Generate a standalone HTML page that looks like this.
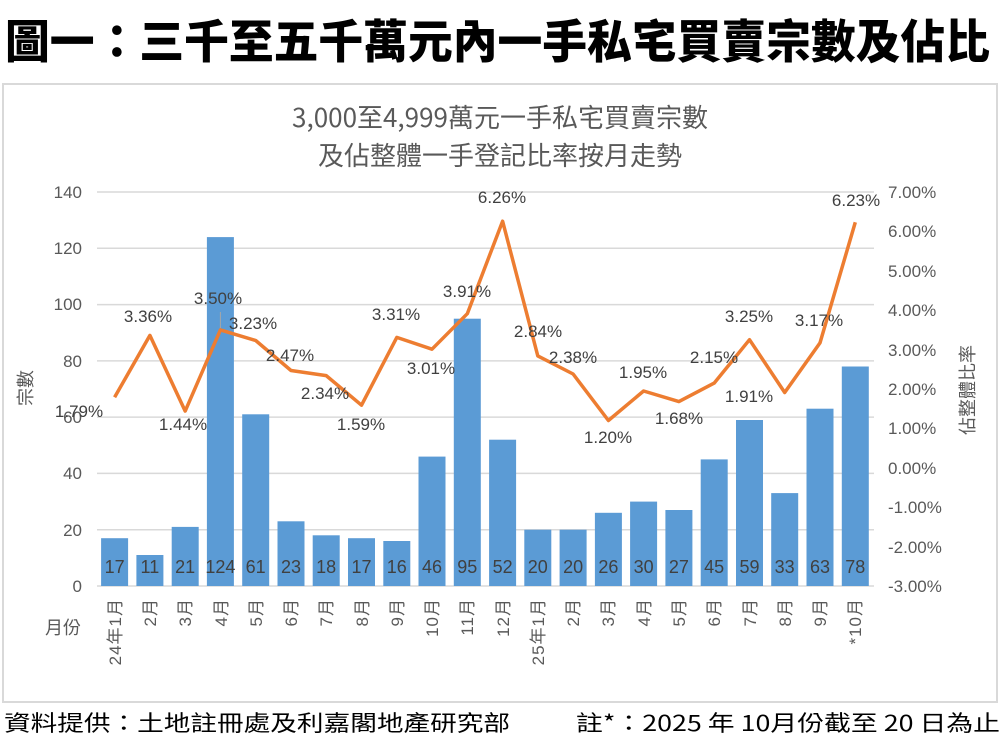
<!DOCTYPE html>
<html><head><meta charset="utf-8"><style>
html,body{margin:0;padding:0;background:#fff;}
svg{display:block;}
text{font-family:"Liberation Sans","Noto Sans CJK TC",sans-serif;}
.g{fill:#595959;font-size:17px;}
.b{fill:#404040;font-size:18px;text-anchor:middle;}
.l{fill:#404040;font-size:17px;text-anchor:middle;}
.x{fill:#595959;font-size:17px;text-anchor:end;letter-spacing:1px;}
</style></head><body>
<svg width="1007" height="744" viewBox="0 0 1007 744" xmlns="http://www.w3.org/2000/svg">
<text x="5" y="58" font-size="46" font-weight="900" fill="#000" textLength="985" lengthAdjust="spacingAndGlyphs" style="font-family:'Noto Sans CJK TC',sans-serif">圖一：三千至五千萬元內一手私宅買賣宗數及佔比</text>
<rect x="3" y="84" width="994" height="618" fill="#fff" stroke="#d9d9d9" stroke-width="2"/>
<text x="500" y="127" font-size="26" fill="#595959" text-anchor="middle" style="font-family:'Noto Sans CJK TC',sans-serif">3,000至4,999萬元一手私宅買賣宗數</text>
<text x="500" y="165" font-size="26" fill="#595959" text-anchor="middle" style="font-family:'Noto Sans CJK TC',sans-serif">及佔整體一手登記比率按月走勢</text>
<g stroke="#d9d9d9" stroke-width="1.5">
<line x1="97" x2="874" y1="192" y2="192"/><line x1="97" x2="874" y1="248.3" y2="248.3"/>
<line x1="97" x2="874" y1="304.6" y2="304.6"/><line x1="97" x2="874" y1="360.9" y2="360.9"/>
<line x1="97" x2="874" y1="417.1" y2="417.1"/><line x1="97" x2="874" y1="473.4" y2="473.4"/>
<line x1="97" x2="874" y1="529.7" y2="529.7"/><line x1="97" x2="874" y1="586" y2="586"/>
</g>
<g class="g" text-anchor="end">
<text x="82" y="198">140</text><text x="82" y="254">120</text><text x="82" y="310">100</text>
<text x="82" y="367">80</text><text x="82" y="423">60</text><text x="82" y="479">40</text>
<text x="82" y="536">20</text><text x="82" y="592">0</text>
</g>
<g class="g">
<text x="888" y="198">7.00%</text><text x="888" y="237">6.00%</text><text x="888" y="277">5.00%</text>
<text x="888" y="316">4.00%</text><text x="888" y="356">3.00%</text><text x="888" y="395">2.00%</text>
<text x="888" y="434">1.00%</text><text x="888" y="474">0.00%</text><text x="888" y="513">-1.00%</text>
<text x="888" y="553">-2.00%</text><text x="888" y="592">-3.00%</text>
</g>
<text class="g" transform="translate(32,388) rotate(-90)" text-anchor="middle" style="font-size:18px">宗數</text>
<text class="g" transform="translate(974,390) rotate(-90)" text-anchor="middle" style="font-size:18px">佔整體比率</text>
<text class="g" x="45" y="634" style="font-size:18px">月份</text>
<g fill="#5b9bd5">
<rect x="101.1" y="538.2" width="27" height="47.8"/><rect x="136.4" y="555" width="27" height="31"/>
<rect x="171.7" y="526.9" width="27" height="59.1"/><rect x="206.9" y="237.1" width="27" height="348.9"/>
<rect x="242.2" y="414.3" width="27" height="171.7"/><rect x="277.5" y="521.3" width="27" height="64.7"/>
<rect x="312.7" y="535.3" width="27" height="50.7"/><rect x="348" y="538.2" width="27" height="47.8"/>
<rect x="383.3" y="541" width="27" height="45"/><rect x="418.5" y="456.6" width="27" height="129.4"/>
<rect x="453.8" y="318.7" width="27" height="267.3"/><rect x="489.1" y="439.7" width="27" height="146.3"/>
<rect x="524.3" y="529.7" width="27" height="56.3"/><rect x="559.6" y="529.7" width="27" height="56.3"/>
<rect x="594.9" y="512.8" width="27" height="73.2"/><rect x="630.1" y="501.6" width="27" height="84.4"/>
<rect x="665.4" y="510" width="27" height="76"/><rect x="700.7" y="459.4" width="27" height="126.6"/>
<rect x="736" y="420" width="27" height="166"/><rect x="771.2" y="493.1" width="27" height="92.9"/>
<rect x="806.5" y="408.7" width="27" height="177.3"/><rect x="841.8" y="366.5" width="27" height="219.5"/>
</g>
<g class="b">
<text x="114.6" y="573">17</text><text x="149.9" y="573">11</text><text x="185.2" y="573">21</text><text x="220.4" y="573">124</text>
<text x="255.7" y="573">61</text><text x="291" y="573">23</text><text x="326.2" y="573">18</text><text x="361.5" y="573">17</text>
<text x="396.8" y="573">16</text><text x="432" y="573">46</text><text x="467.3" y="573">95</text><text x="502.6" y="573">52</text>
<text x="537.8" y="573">20</text><text x="573.1" y="573">20</text><text x="608.4" y="573">26</text><text x="643.6" y="573">30</text>
<text x="678.9" y="573">27</text><text x="714.2" y="573">45</text><text x="749.5" y="573">59</text><text x="784.7" y="573">33</text>
<text x="820" y="573">63</text><text x="855.3" y="573">78</text>
</g>
<line x1="220.4" y1="312" x2="220.4" y2="328" stroke="#a6a6a6" stroke-width="1"/>
<polyline fill="none" stroke="#ed7d31" stroke-width="3.5" stroke-linejoin="round" points="114.6,397.3 149.9,335.4 185.2,411.1 220.4,329.9 255.7,340.5 291,370.5 326.2,375.6 361.5,405.2 396.8,337.4 432,349.2 467.3,313.7 502.6,221.2 537.8,355.9 573.1,374 608.4,420.5 643.6,391 678.9,401.6 714.2,383.1 749.5,339.7 784.7,392.5 820,342.9 855.3,222.3"/>
<g class="l">
<text x="79" y="417">1.79%</text><text x="148" y="322">3.36%</text><text x="183" y="430">1.44%</text>
<text x="218" y="304">3.50%</text><text x="253" y="329">3.23%</text><text x="290" y="361">2.47%</text>
<text x="325" y="399">2.34%</text><text x="361" y="430">1.59%</text><text x="396" y="320">3.31%</text>
<text x="431" y="374">3.01%</text><text x="467" y="297">3.91%</text><text x="502" y="203">6.26%</text>
<text x="538" y="337">2.84%</text><text x="573" y="363">2.38%</text><text x="608" y="443">1.20%</text>
<text x="643" y="378">1.95%</text><text x="679" y="424">1.68%</text><text x="714" y="363">2.15%</text>
<text x="749" y="322">3.25%</text><text x="749" y="402">1.91%</text><text x="819" y="326">3.17%</text>
<text x="856" y="206">6.23%</text>
</g>
<g class="x">
<text transform="translate(121,598) rotate(-90)">24年1月</text><text transform="translate(156,598) rotate(-90)">2月</text>
<text transform="translate(191,598) rotate(-90)">3月</text><text transform="translate(227,598) rotate(-90)">4月</text>
<text transform="translate(262,598) rotate(-90)">5月</text><text transform="translate(297,598) rotate(-90)">6月</text>
<text transform="translate(332,598) rotate(-90)">7月</text><text transform="translate(368,598) rotate(-90)">8月</text>
<text transform="translate(403,598) rotate(-90)">9月</text><text transform="translate(438,598) rotate(-90)">10月</text>
<text transform="translate(473,598) rotate(-90)">11月</text><text transform="translate(509,598) rotate(-90)">12月</text>
<text transform="translate(544,598) rotate(-90)">25年1月</text><text transform="translate(579,598) rotate(-90)">2月</text>
<text transform="translate(614,598) rotate(-90)">3月</text><text transform="translate(650,598) rotate(-90)">4月</text>
<text transform="translate(685,598) rotate(-90)">5月</text><text transform="translate(720,598) rotate(-90)">6月</text>
<text transform="translate(756,598) rotate(-90)">7月</text><text transform="translate(791,598) rotate(-90)">8月</text>
<text transform="translate(826,598) rotate(-90)">9月</text><text transform="translate(861,598) rotate(-90)">*10月</text>
</g>
<text x="4" y="731" font-size="22" fill="#000" textLength="506" lengthAdjust="spacingAndGlyphs" style="font-family:'Noto Sans CJK TC',sans-serif">資料提供：土地註冊處及利嘉閣地產研究部</text>
<text x="576" y="731" font-size="22" fill="#000" textLength="424" lengthAdjust="spacingAndGlyphs" style="font-family:'Noto Sans CJK TC',sans-serif">註*：2025 年 10月份截至 20 日為止</text>
</svg>
</body></html>
